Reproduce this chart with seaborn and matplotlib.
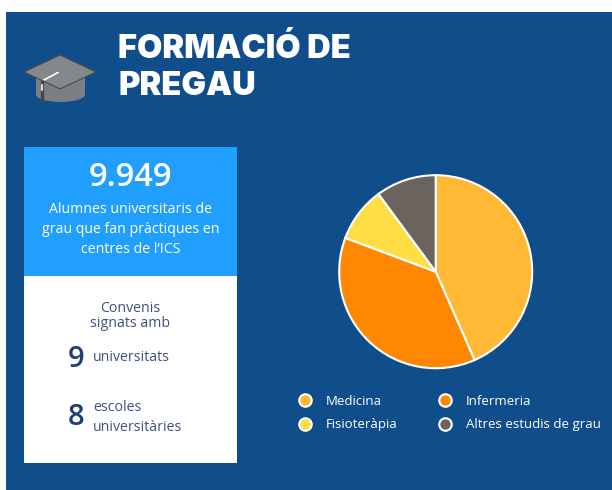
#!/usr/bin/env python3
"""Formació de pregau: infographic panel with a pie of students by degree."""
import matplotlib
matplotlib.use('Agg')
import matplotlib.pyplot as plt
from matplotlib.lines import Line2D
from matplotlib.patches import Ellipse, Polygon, Rectangle
import seaborn as sns

sns.set_theme(style='white')
plt.rcParams['font.family'] = ['Open Sans', 'DejaVu Sans']

# Data
studies = ['Medicina', 'Infermeria', 'Fisioteràpia', 'Altres estudis de grau']
shares = [43.4, 37.3, 9.2, 10.1]
total_students = '9.949'
agreements = ['9', '8']

NAVY = '#104E8B'
SKY = '#219FFF'
INK = '#1F3E78'
TEXT = '#41507F'
palette = sns.color_palette(['#FFB934', '#FF8800', '#FFDD44', '#6B635E'])

W, H = 612, 490
fig = plt.figure(figsize=(W / 100, H / 100), dpi=100, facecolor='white')

# Overlay in pixel coordinates for the panels and text
bg = fig.add_axes([0, 0, 1, 1])
bg.set_xlim(0, W)
bg.set_ylim(H, 0)
bg.axis('off')
bg.add_patch(Rectangle((6, 12), W - 6, H - 12, color=NAVY, lw=0))
bg.add_patch(Rectangle((24, 147), 213, 129, color=SKY, lw=0))
bg.add_patch(Rectangle((24, 276), 213, 187, color='white', lw=0))

# Graduation cap icon
bg.add_patch(Ellipse((60.5, 94.5), 49, 15, color='#7C7F82', lw=0))
bg.add_patch(Rectangle((36, 76), 49, 18, color='#7C7F82', lw=0))
bg.add_patch(Polygon([(24, 72), (60, 55), (96, 72), (60, 89)], closed=True,
                     facecolor='#85888A', edgecolor='#4A4A4A', lw=0.8))
bg.plot([42, 58], [81, 72.5], color='white', lw=1.2)
bg.plot([42, 42], [81, 101], color='#444444', lw=2.4, solid_capstyle='round')
bg.plot([42, 42], [85, 90], color='#D8D8D8', lw=1.6)

# Title
title_font = dict(family='Inter', fontweight='black', color='white', fontsize=23.5, va='baseline')
bg.text(118, 58, 'FORMACIÓ DE', **title_font)
bg.text(118, 95, 'PREGAU', **title_font)

# Blue card
bg.text(130.5, 177.5, total_students, color='white', fontsize=23.5, fontweight='semibold',
        ha='center', va='center')
for y, line in zip([209, 229, 249], ['Alumnes universitaris de', 'grau que fan pràctiques en',
                                     'centres de l’ICS']):
    bg.text(130.5, y, line, color='white', fontsize=10.2, ha='center', va='center')

# White card
bg.text(130.5, 308, 'Convenis', color=TEXT, fontsize=10.2, ha='center', va='center')
bg.text(130.5, 323, 'signats amb', color=TEXT, fontsize=10.2, ha='center', va='center')
bg.text(76, 359, agreements[0], color=INK, fontsize=21, fontweight='semibold', ha='center', va='center')
bg.text(76, 417, agreements[1], color=INK, fontsize=21, fontweight='semibold', ha='center', va='center')
bg.text(93, 357, 'universitats', color=TEXT, fontsize=10.2, va='center')
bg.text(93, 407, 'escoles', color=TEXT, fontsize=10.2, va='center')
bg.text(93, 427, 'universitàries', color=TEXT, fontsize=10.2, va='center')

# Pie
r = 96.5
ax = fig.add_axes([(435.7 - r) / W, 1 - (271.7 + r) / H, 2 * r / W, 2 * r / H])
ax.pie(shares, colors=palette, startangle=90, counterclock=False, radius=1,
       wedgeprops=dict(edgecolor='white', linewidth=1.5), frame=True)
ax.set_xlim(-1, 1)
ax.set_ylim(-1, 1)
ax.axis('off')

# Legend, filled column by column so the rows read as in the original
order = [0, 2, 1, 3]
handles = [Line2D([], [], ls='none', marker='o', markersize=9, markerfacecolor=palette[i],
                  markeredgecolor='white', markeredgewidth=1.5) for i in order]
leg = fig.legend(handles, [studies[i] for i in order], ncol=2, frameon=False, fontsize=9.5,
                 labelcolor='white', loc='center left', bbox_to_anchor=(287 / W, 1 - 413 / H),
                 columnspacing=2.6, handletextpad=0.55, labelspacing=0.8, borderaxespad=0)

fig.savefig('out.png', dpi=100, facecolor='white')
